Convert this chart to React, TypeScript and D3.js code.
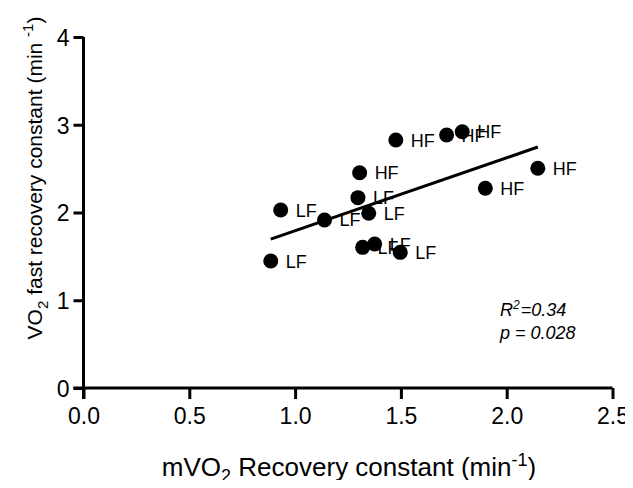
import { useEffect, useRef } from 'react';
import * as d3 from 'd3';

// mVO2 recovery constant (x) vs VO2 fast recovery constant (y)
const xValues = [0.885, 0.932, 1.139, 1.297, 1.305, 1.319, 1.348, 1.376, 1.476, 1.497, 1.716, 1.790, 1.899, 2.147];
const yValues = [1.447, 2.028, 1.915, 2.169, 2.453, 1.603, 1.991, 1.641, 2.826, 1.546, 2.883, 2.921, 2.276, 2.504];
const groups = ['LF', 'LF', 'LF', 'LF', 'HF', 'LF', 'LF', 'LF', 'HF', 'LF', 'HF', 'HF', 'HF', 'HF'];

const xTicks = [0, 0.5, 1.0, 1.5, 2.0, 2.5];
const yTicks = [0, 1, 2, 3, 4];

// linear fit
const fitSlope = 0.831;
const fitIntercept = 0.962;

const FONT = '"Liberation Sans", Arial, Helvetica, sans-serif';

const App = () => {
  const svgRef = useRef<SVGSVGElement>(null);

  useEffect(() => {
    const svg = d3.select(svgRef.current);
    svg.selectAll('*').remove();

    const x = d3.scaleLinear().domain([0, 2.5]).range([83.5, 612.5]);
    const y = d3.scaleLinear().domain([0, 4]).range([388, 37]);

    // axes
    const yAxis = svg.append('g')
      .attr('transform', `translate(${x(0)},0)`)
      .call(d3.axisLeft(y).tickValues(yTicks).tickFormat(d3.format('d')).tickSize(10).tickPadding(4).tickSizeOuter(0));
    const xAxis = svg.append('g')
      .attr('transform', `translate(0,${y(0)})`)
      .call(d3.axisBottom(x).tickValues(xTicks).tickFormat(d3.format('.1f')).tickSize(11).tickPadding(9).tickSizeOuter(0));

    [xAxis, yAxis].forEach(a => {
      a.select('.domain').attr('stroke', '#000').attr('stroke-width', 3);
      a.selectAll('.tick line').attr('stroke', '#000').attr('stroke-width', 3);
      a.selectAll('.tick text')
        .attr('fill', '#000')
        .style('font-family', FONT)
        .style('font-size', '23px');
    });
    xAxis.select('.domain').attr('d', `M${x(0) - 10},0H${x(2.5)}`);
    yAxis.select('.domain').attr('d', `M0,${y(4)}V${y(0) + 11}`);
    yAxis.selectAll('.tick text').attr('dy', '0.36em');

    // regression line
    const [xMin, xMax] = d3.extent(xValues) as [number, number];
    svg.append('path')
      .datum([xMin, xMax])
      .attr('fill', 'none')
      .attr('stroke', '#000')
      .attr('stroke-width', 3)
      .attr('d', d3.line<number>().x(d => x(d)).y(d => y(fitIntercept + fitSlope * d)));

    // points with labels, drawn in order
    const pts = xValues.map((v, i) => ({ x: v, y: yValues[i], g: groups[i] }));
    const pg = svg.append('g');
    pts.forEach(p => {
      const g = pg.append('g');
      g.append('circle')
        .attr('cx', x(p.x))
        .attr('cy', y(p.y))
        .attr('r', 7.5)
        .attr('fill', '#000');
      g.append('text')
        .attr('x', x(p.x) + 15)
        .attr('y', y(p.y) + 6.5)
        .style('font-family', FONT)
        .style('font-size', '18px')
        .text(p.g);
    });

    // stats
    const st = svg.append('g')
      .style('font-family', FONT)
      .style('font-size', '18px')
      .style('font-style', 'italic');
    const r2 = st.append('text').attr('x', 500).attr('y', 316);
    r2.append('tspan').text('R');
    r2.append('tspan').attr('dy', -7).style('font-size', '12px').text('2');
    r2.append('tspan').attr('dy', 7).attr('dx', 1).text('=0.34');
    st.append('text').attr('x', 500).attr('y', 339).text('p = 0.028');

    // axis titles
    const xt = svg.append('text')
      .attr('x', 349)
      .attr('y', 476)
      .attr('text-anchor', 'middle')
      .style('font-family', FONT)
      .style('font-size', '26px');
    xt.append('tspan').text('mVO');
    xt.append('tspan').attr('dy', 6).style('font-size', '18px').text('2');
    xt.append('tspan').attr('dy', -6).text(' Recovery constant (min');
    xt.append('tspan').attr('dy', -10).style('font-size', '18px').text('-1');
    xt.append('tspan').attr('dy', 10).text(')');

    const yt = svg.append('text')
      .attr('transform', 'translate(42,178) rotate(-90)')
      .attr('text-anchor', 'middle')
      .style('font-family', FONT)
      .style('font-size', '21px');
    yt.append('tspan').text('VO');
    yt.append('tspan').attr('dy', 6).style('font-size', '15px').text('2');
    yt.append('tspan').attr('dy', -6).text('  fast recovery constant (min ');
    yt.append('tspan').attr('dy', -9).style('font-size', '15px').text('-1');
    yt.append('tspan').attr('dy', 9).text(')');
  }, []);

  return (
    <svg ref={svgRef} width={633} height={488} style={{ display: 'block', margin: '-8px', background: '#fff' }} />
  );
};

export default App;
